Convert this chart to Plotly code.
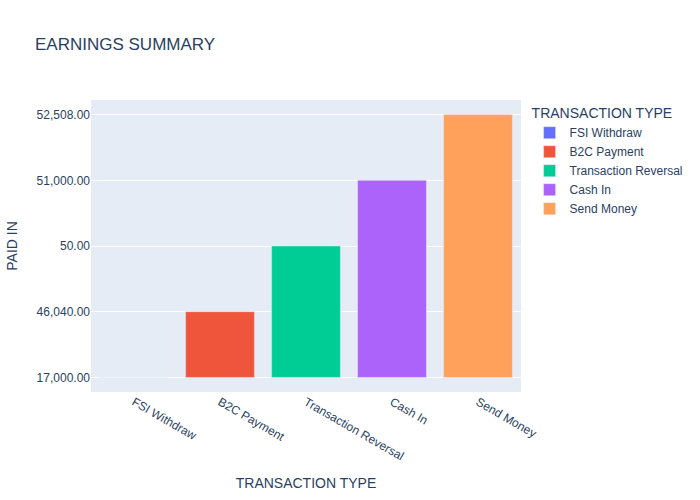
import plotly.graph_objects as go

types = ["FSI Withdraw", "B2C Payment", "Transaction Reversal", "Cash In", "Send Money"]
paid_in = ["17,000.00", "46,040.00", "50.00", "51,000.00", "52,508.00"]
colors = ["#636efa", "#EF553B", "#00cc96", "#ab63fa", "#FFA15A"]

fig = go.Figure()
for t, v, c in zip(types, paid_in, colors):
    fig.add_trace(go.Bar(x=[t], y=[v], name=t, marker_color=c, legendgroup=t,
                         showlegend=True))

fig.update_layout(
    title=dict(text="EARNINGS SUMMARY"),
    barmode="relative",
    template="plotly",
    font=dict(family="Liberation Sans, Arial, sans-serif"),
    width=700, height=500,
    legend=dict(title=dict(text="TRANSACTION TYPE"), tracegroupgap=0),
    xaxis=dict(title=dict(text="TRANSACTION TYPE"), categoryorder="array", categoryarray=types),
    yaxis=dict(title=dict(text="PAID IN"), type="category", categoryorder="array", categoryarray=paid_in),
)
fig.write_html("out.html", config={"displayModeBar": False},
               post_script="document.body.style.margin='0';")
